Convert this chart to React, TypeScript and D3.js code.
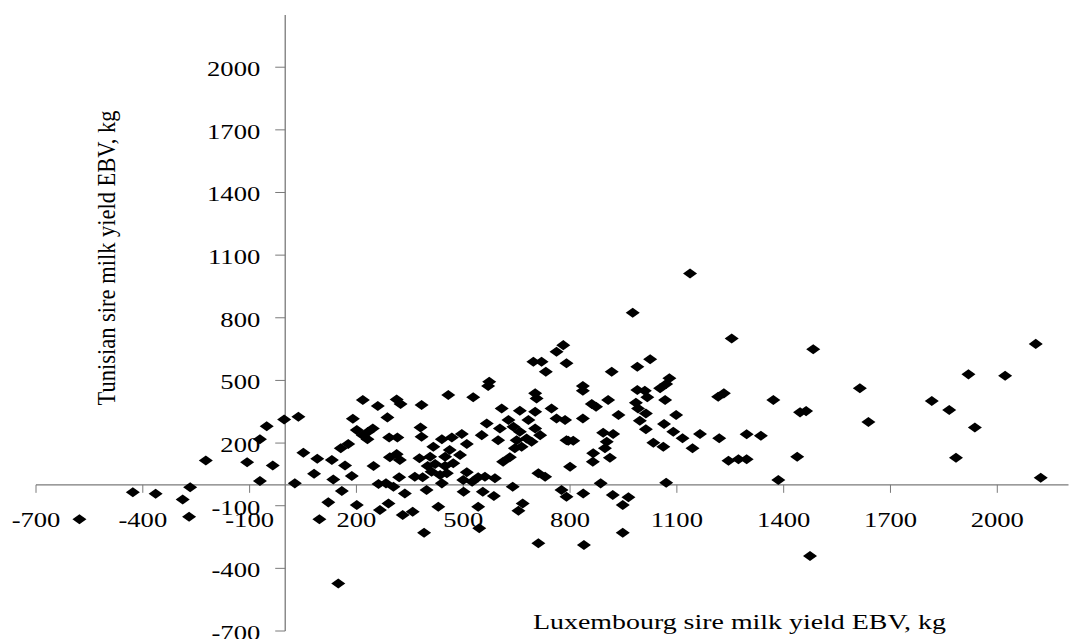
import React, { useEffect, useRef } from "react";
import * as d3 from "d3";

// Luxembourg sire EBV (x) and Tunisian sire EBV (y), kg
const luxEbv = [
  -578, -428, -364, -288, -267, -270, -223, -107, -35, -71, -71, -52, -3,
  37, 27, 51,
  90, 131, 81, 135, 159, 121, 96, 149, 168, 156, 177, 187, 201, 190, 218, 201,
  231, 246, 218, 260, 287, 248, 262, 266, 290, 283, 304, 336, 292, 315, 294,
  313, 322, 313, 324, 320, 330, 358, 383, 380, 383, 377, 364, 386, 390, 400,
  397, 416, 233,
  458, 528, 573, 570, 440, 468, 496, 510, 462, 491, 407, 421, 449, 472, 454,
  440, 510, 501, 525, 542, 561, 589, 555, 586, 430, 542, 545, 552, 566, 608,
  659, 702, 598, 603, 627, 641, 659, 650, 683, 702, 716, 678, 664, 692, 645,
  612, 631, 639, 667, 655, 711, 730, 711, 702, 706, 748, 762, 786, 790, 800,
  776, 790, 697, 720, 732, 762, 781, 790, 435, 449, 411, 500,
  1137, 976, 917, 989, 1025, 836, 836, 907, 861, 873, 989, 1010, 1017, 985,
  991, 1013, 996, 1013, 1053, 1070, 1079, 1067, 1098, 1064, 1090, 1116, 1165,
  1144, 1034, 1062, 936, 836, 795, 809, 865, 864, 893, 921, 903, 898, 912,
  886, 1070, 837, 920, 964, 948, 948, 839,
  1254, 1483, 1614, 1638, 1216, 1232, 1371, 1446, 1463, 1219, 1296, 1336,
  1245, 1273, 1296, 1438, 1385, 1474,
  2108, 1919, 2022, 1816, 1865, 1937, 1884, 2122,
];

const tunEbv = [
  -165, -36, -43, -70, -12, -153, 117, 108, 93, 18, 218, 281, 313,
  326, 7, 154,
  125, 119, 53, 26, -30, -84, -165, -472, 93, 175, 195, 42, -97, 316, 406, 262,
  218, 270, 238, 377, 323, 90, 4, -121, -89, 7, -9, -41, 227, 227, 132,
  147, 119, 409, 387, 36, -145, -129, 382, 275, 230, 127, 39, 36, -229, 90,
  -25, 182, 254,
  430, 419, 494, 473, 218, 227, 243, 195, 167, 143, 135, 100, 90, 103, 55,
  7, 60, -33, 15, 36, 39, 31, -33, -54, -105, -105, -208, 238, 294, 366,
  355, 350, 214, 270, 310, 278, 254, 214, 310, 270, 238, 222, 182, 206, 175,
  111, 132, -9, -89, -124, 55, 39, -280, 438, 414, 366, 318, 310, 214, 87,
  -25, -57, 589, 589, 541, 637, 669, 582, 47, 135, 63, 23,
  1012, 824, 541, 565, 601, 473, 450, 406, 387, 374, 454, 450, 419, 393,
  366, 342, 307, 266, 462, 483, 510, 406, 334, 291, 254, 223, 243,
  175, 202, 182, 334, 318, 211, 211, 151, 111, 249, 243, 206, 175, 130,
  7, 10, -41, -49, -60, -97, -229, -288,
  701, 649, 462, 301, 422, 438, 406, 347, 353, 223, 242, 235,
  115, 122, 122, 135, 23, -341,
  675, 529, 522, 401, 358, 275, 130, 34,
];

const xTicks = [-700, -400, -100, 200, 500, 800, 1100, 1400, 1700, 2000];
const yTicks = [-700, -400, -100, 200, 500, 800, 1100, 1400, 1700, 2000];

const xTitle = "Luxembourg sire milk yield EBV, kg";
const yTitle = "Tunisian sire milk yield EBV, kg";

const W = 1074;
const H = 639;
const stretch = 1.33; // the original picture is stretched sideways
const axisColor = "#7a7a7a";
const font = "'Liberation Serif', 'Times New Roman', serif";

export default function App() {
  const ref = useRef<SVGSVGElement>(null);

  useEffect(() => {
    const svg = d3.select(ref.current);
    svg.selectAll("*").remove();

    const x = d3.scaleLinear().domain([-700, 2200]).range([36, 1068.5]);
    const y = d3.scaleLinear().domain([-700, 2250]).range([631, 15]);

    const x0 = x(0);
    const y0 = y(0);

    // axes cross at zero
    svg.append("line")
      .attr("x1", x(-700)).attr("x2", x(2200))
      .attr("y1", y0).attr("y2", y0)
      .attr("stroke", axisColor).attr("stroke-width", 1.3);
    svg.append("line")
      .attr("x1", x0).attr("x2", x0)
      .attr("y1", y(-700)).attr("y2", y(2250))
      .attr("stroke", axisColor).attr("stroke-width", 1.3);

    // x ticks + labels
    svg.append("g").selectAll("line")
      .data(xTicks)
      .join("line")
        .attr("x1", (d) => x(d)).attr("x2", (d) => x(d))
        .attr("y1", y0).attr("y2", y0 + 8)
        .attr("stroke", axisColor).attr("stroke-width", 1);
    svg.append("g").selectAll("text")
      .data(xTicks)
      .join("text")
        .attr("transform", (d) => `translate(${x(d)},${y0 + 42}) scale(${stretch},1)`)
        .attr("text-anchor", "middle")
        .attr("font-family", font)
        .attr("font-size", 20)
        .attr("fill", "#000")
        .text((d) => d);

    // y ticks + labels
    svg.append("g").selectAll("line")
      .data(yTicks)
      .join("line")
        .attr("x1", x0 - 10).attr("x2", x0)
        .attr("y1", (d) => y(d)).attr("y2", (d) => y(d))
        .attr("stroke", axisColor).attr("stroke-width", 1);
    svg.append("g").selectAll("text")
      .data(yTicks)
      .join("text")
        .attr("transform", (d) => `translate(${x0 - 25},${y(d) + 9}) scale(${stretch},1)`)
        .attr("text-anchor", "end")
        .attr("font-family", font)
        .attr("font-size", 20)
        .attr("fill", "#000")
        .text((d) => d);

    // points
    const diamond = d3.symbol().type(d3.symbolDiamond2).size(64)();
    svg.append("g")
      .selectAll("path")
      .data(d3.range(luxEbv.length))
      .join("path")
        .attr("d", diamond)
        .attr("transform", (i) => `translate(${x(luxEbv[i])},${y(tunEbv[i])}) scale(1.4,1)`)
        .attr("fill", "#000");

    // titles
    svg.append("text")
      .attr("transform", `translate(533,629) scale(${stretch},1)`)
      .attr("font-family", font)
      .attr("font-size", 21)
      .attr("fill", "#000")
      .text(xTitle);
    svg.append("text")
      .attr("transform", `translate(115,258) scale(1.15,1) rotate(-90)`)
      .attr("text-anchor", "middle")
      .attr("font-family", font)
      .attr("font-size", 22.5)
      .attr("fill", "#000")
      .text(yTitle);
  }, []);

  return (
    <div style={{ position: "absolute", left: 0, top: 0 }}>
      <svg ref={ref} width={W} height={H} style={{ display: "block", background: "#fff" }} />
    </div>
  );
}
